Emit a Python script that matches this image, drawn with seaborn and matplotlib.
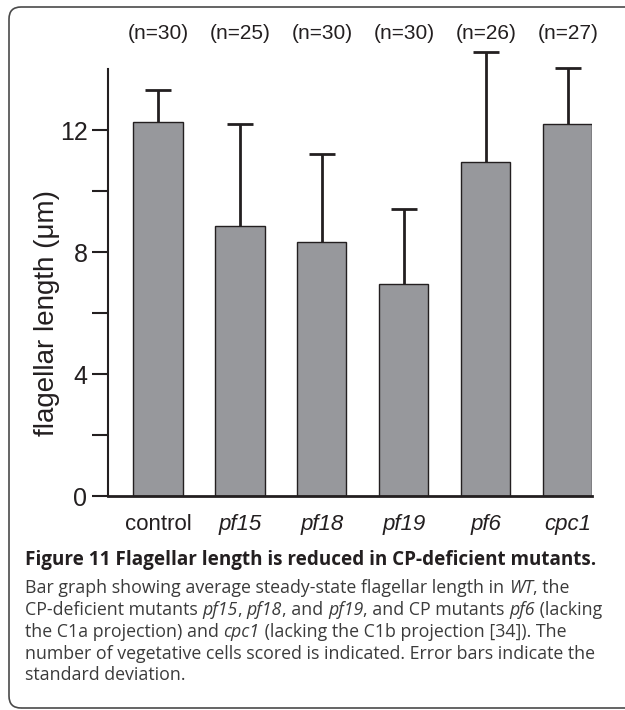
import matplotlib
matplotlib.use("Agg")
import matplotlib.pyplot as plt
import matplotlib.transforms as mtransforms
from matplotlib.patches import FancyBboxPatch
import seaborn as sns
import pandas as pd

# values
strains = ["control", "pf15", "pf18", "pf19", "pf6", "cpc1"]
mean_length = [12.26, 8.85, 8.32, 6.96, 10.96, 12.20]
sd_length = [1.04, 3.35, 2.88, 2.44, 3.59, 1.82]
n_cells = [30, 25, 30, 30, 26, 27]
major_ticks = [0, 4, 8, 12]
minor_ticks = [2, 6, 10]

caption_title = "Figure 11 Flagellar length is reduced in CP-deficient mutants."
caption_lines = [
    [("Bar graph showing average steady-state flagellar length in ", False), ("WT", True), (", the", False)],
    [("CP-deficient mutants ", False), ("pf15", True), (", ", False), ("pf18", True), (", and ", False),
     ("pf19", True), (", and CP mutants ", False), ("pf6", True), (" (lacking", False)],
    [("the C1a projection) and ", False), ("cpc1", True), (" (lacking the C1b projection [34]). The", False)],
    [("number of vegetative cells scored is indicated. Error bars indicate the", False)],
    [("standard deviation.", False)],
]

ink = "#231f20"
bar_grey = "#97989c"

sns.set_style("ticks")
plt.rcParams["font.family"] = ["Liberation Sans", "DejaVu Sans"]

df = pd.DataFrame({"strain": strains, "length": mean_length})

fig = plt.figure(figsize=(6.25, 7.1), dpi=100)
ax = fig.add_axes([0.1722, 0.3014, 0.7742, 0.6014])

eb = ax.errorbar(range(len(strains)), mean_length, yerr=sd_length, fmt="none",
                 ecolor=ink, elinewidth=2.0, capsize=9.5, capthick=2.0, zorder=1)
for art in list(eb.lines[1]) + list(eb.lines[2]):
    art.set_clip_on(False)
sns.barplot(data=df, x="strain", y="length", color=bar_grey, saturation=1,
            edgecolor=ink, linewidth=1.0, width=0.6, errorbar=None, ax=ax, zorder=2)

ax.set_xlim(-0.615, 5.29)
ax.set_ylim(0, 14)
ax.set_yticks(major_ticks)
ax.set_yticks(minor_ticks, minor=True)
ax.set_yticklabels([str(t) for t in major_ticks])
sns.despine(ax=ax)
ax.spines["left"].set_linewidth(1.5)
ax.spines["bottom"].set_linewidth(2.0)
ax.spines["left"].set_color(ink)
ax.spines["bottom"].set_color(ink)

ax.tick_params(axis="y", which="both", length=11.5, width=1.5, color=ink,
               labelsize=18, pad=3, labelcolor=ink)
ax.tick_params(axis="x", length=0, pad=13, labelsize=16, labelcolor=ink)
for i, lab in enumerate(ax.get_xticklabels()):
    if i > 0:
        lab.set_fontstyle("italic")

ax.set_xlabel("")
ax.set_ylabel("flagellar length (\u03bcm)", fontsize=20, color=ink)
ax.yaxis.label.set_va("center")
ax.yaxis.set_label_coords(-0.125, 0.4286)

# sample sizes above the bars
trans = mtransforms.blended_transform_factory(ax.transData, ax.transAxes)
for i, n in enumerate(n_cells):
    ax.text(i, 1.084, f"(n={n})", transform=trans, ha="center", va="center",
            fontsize=15, color=ink, clip_on=False)

# caption box, its right side runs off the picture
box = FancyBboxPatch((9, 2), 700, 701, boxstyle="round,pad=0,rounding_size=12",
                     transform=mtransforms.IdentityTransform(), fill=False,
                     ec="#4a4a4a", lw=1.2)
fig.add_artist(box)

renderer = fig.canvas.get_renderer()


def seg_width(txt, **kw):
    a = fig.text(0, 0, txt + "|", **kw)
    b = fig.text(0, 0, "|", **kw)
    w = a.get_window_extent(renderer).width - b.get_window_extent(renderer).width
    a.remove()
    b.remove()
    return w


def put_line(y_px, parts, size, color, weight="normal"):
    x = 25.0
    for txt, ital in parts:
        kw = dict(fontsize=size, family="Open Sans", color=color, weight=weight,
                  style="italic" if ital else "normal")
        fig.text(x / 625, 1 - y_px / 710, txt, va="baseline", **kw)
        x += seg_width(txt, **kw)


put_line(565, [(caption_title, False)], 13.6, ink, weight="bold")
for k, parts in enumerate(caption_lines):
    put_line(593.3 + k * 21.8, parts, 12.8, "#3b3b3b")

fig.savefig("out.png", dpi=100)
